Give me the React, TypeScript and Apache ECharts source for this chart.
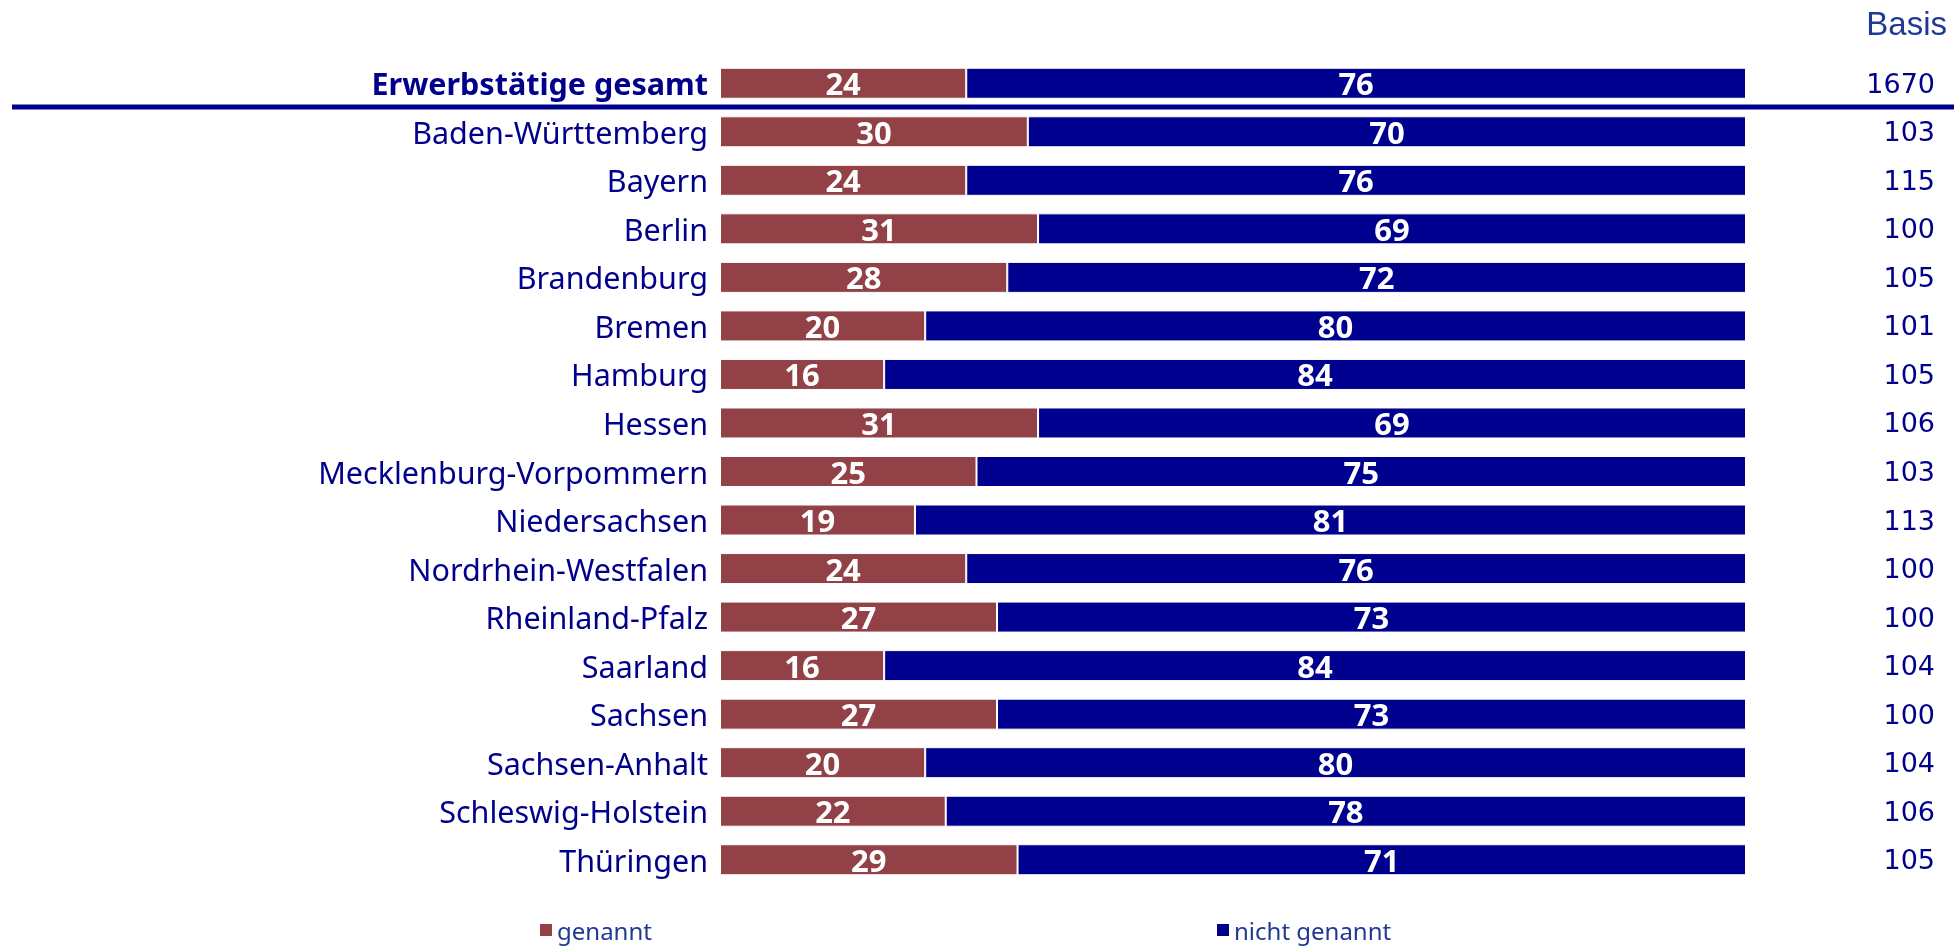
import React, { useEffect, useRef } from "react";
import * as echarts from "echarts";

const categories = [
  "Erwerbstätige gesamt",
  "Baden-Württemberg",
  "Bayern",
  "Berlin",
  "Brandenburg",
  "Bremen",
  "Hamburg",
  "Hessen",
  "Mecklenburg-Vorpommern",
  "Niedersachsen",
  "Nordrhein-Westfalen",
  "Rheinland-Pfalz",
  "Saarland",
  "Sachsen",
  "Sachsen-Anhalt",
  "Schleswig-Holstein",
  "Thüringen",
];
const genannt = [24, 30, 24, 31, 28, 20, 16, 31, 25, 19, 24, 27, 16, 27, 20, 22, 29];
const nichtGenannt = [76, 70, 76, 69, 72, 80, 84, 69, 75, 81, 76, 73, 84, 73, 80, 78, 71];
const basis = [1670, 103, 115, 100, 105, 101, 105, 106, 103, 113, 100, 100, 104, 100, 104, 106, 105];
const seriesNames = ["genannt", "nicht genannt"];

const RED = "#924146";
const BLUE = "#00008F";
const TEXT = "#00008B";
const LEGEND_TEXT = "#1F3A93";
const FONT = "'Noto Sans', sans-serif";

export default function App() {
  const ref = useRef<HTMLDivElement>(null);
  useEffect(() => {
    if (!ref.current) return;
    const chart = echarts.init(ref.current, null, { renderer: "svg" });
    const labelCommon = {
      show: true,
      position: "inside",
      color: "#fff",
      fontFamily: FONT,
      fontWeight: "bold",
      fontSize: 31,
    };
    const legendCommon = {
      icon: "rect",
      itemWidth: 14,
      itemHeight: 14,
      itemGap: 8,
      padding: 0,
      top: 918,
      textStyle: { fontFamily: FONT, fontSize: 24, color: LEGEND_TEXT, padding: [0, 0, 0, -1] },
    };
    chart.setOption({
      animation: false,
      grid: { left: 720, right: 208, top: 59, height: 825, containLabel: false },
      xAxis: { type: "value", min: 0, max: 100, show: false },
      yAxis: [
        {
          type: "category",
          data: categories,
          inverse: true,
          axisLine: { show: false },
          axisTick: { show: false },
          axisLabel: {
            margin: 12,
            fontFamily: FONT,
            fontSize: 30.5,
            color: TEXT,
            formatter: (v: string, i: number) => (i === 0 ? `{b|${v}}` : v),
            rich: {
              b: { fontFamily: FONT, fontSize: 30.5, fontWeight: "bold", color: TEXT },
            },
          },
        },
        {
          type: "category",
          data: categories,
          inverse: true,
          position: "right",
          axisLine: { show: false },
          axisTick: { show: false },
          axisLabel: {
            margin: 189,
            align: "right",
            fontFamily: "'DejaVu Sans', sans-serif",
            fontSize: 27,
            color: TEXT,
            formatter: (_v: string, i: number) => String(basis[i]),
          },
        },
      ],
      legend: [
        { ...legendCommon, data: [seriesNames[0]], left: 538 },
        { ...legendCommon, data: [seriesNames[1]], left: 1215 },
      ],
      series: [
        {
          name: seriesNames[0],
          type: "bar",
          stack: "s",
          data: genannt,
          barWidth: 31,
          itemStyle: { color: RED, borderColor: "#fff", borderWidth: 1 },
          label: labelCommon,
        },
        {
          name: seriesNames[1],
          type: "bar",
          stack: "s",
          data: nichtGenannt,
          barWidth: 31,
          itemStyle: { color: BLUE, borderColor: "#fff", borderWidth: 1 },
          label: labelCommon,
        },
      ],
      graphic: [
        {
          type: "line",
          shape: { x1: 12, y1: 107, x2: 1954, y2: 107 },
          style: { stroke: BLUE, lineWidth: 5 },
        },
        {
          type: "text",
          right: 7,
          top: 7,
          style: {
            text: "Basis",
            fontFamily: "'Liberation Sans', Arial, sans-serif",
            fontSize: 33,
            fill: LEGEND_TEXT,
          },
        },
      ],
    });
    return () => chart.dispose();
  }, []);
  return (
    <div
      ref={ref}
      style={{ position: "fixed", left: 0, top: 0, width: 1954, height: 951 }}
    />
  );
}
